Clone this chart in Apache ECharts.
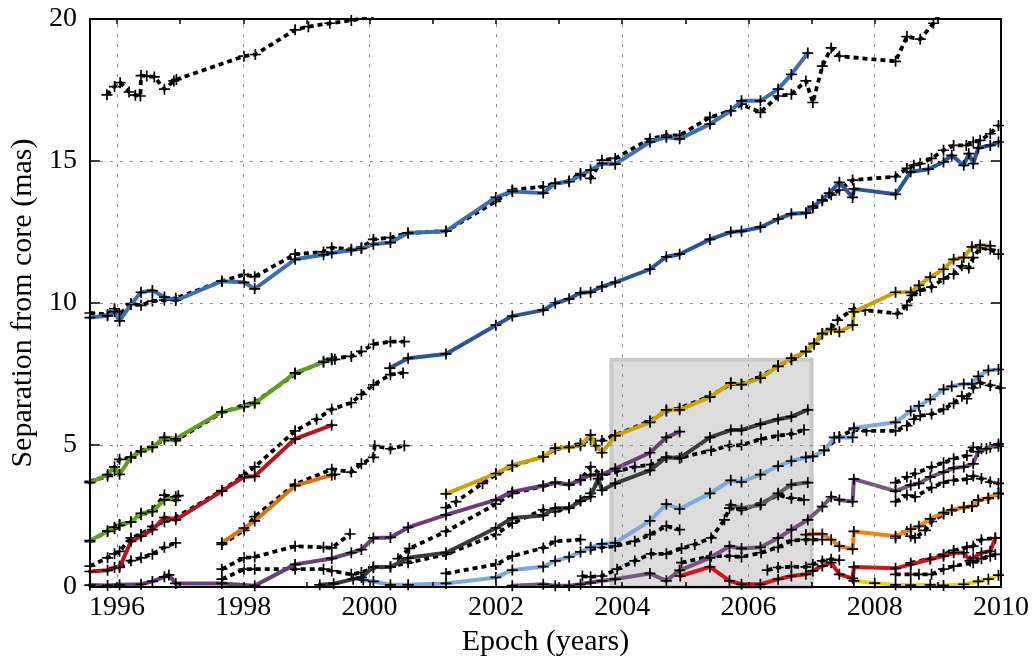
<!DOCTYPE html>
<html>
<head>
<meta charset="utf-8">
<script src="https://cdn.jsdelivr.net/npm/echarts@6/dist/echarts.min.js"></script>
<style>
  html, body { margin: 0; padding: 0; background: #ffffff; }
  #chart { width: 1032px; height: 662px; }
</style>
</head>
<body>
<div id="chart"></div>
<script>
// Axis ticks and labels
const xTickYears  = [1996, 1997, 1998, 1999, 2000, 2001, 2002, 2003, 2004, 2005, 2006, 2007, 2008, 2009, 2010];
const xLabelYears = [1996, 1998, 2000, 2002, 2004, 2006, 2008, 2010];
const xGridYears  = [1996, 1998, 2000, 2002, 2004, 2006, 2008];
const yGridValues = [5, 10, 15];
const xRange = [1995.57, 2010];
const yRange = [0, 20];

// Highlighted epoch window (years, mas)
const windowYears = [2003.83, 2007.0];
const windowSep   = [0, 8];

// Component tracks: [epoch, separation in mas]
const blueTrack = [[1995.57,9.49],[1995.85,9.55],[1995.96,9.7],[1996.04,9.37],[1996.22,9.95],[1996.38,10.38],[1996.56,10.44],[1996.75,10.21],[1996.93,10.09],[1997.66,10.77],[1998.01,10.73],[1998.18,10.50],[1998.82,11.54],[1999.27,11.70],[1999.40,11.76],[1999.71,11.86],[1999.87,11.92],[2000.06,12.07],[2000.33,12.13],[2000.61,12.47],[2001.21,12.53],[2002.0,13.72],[2002.26,13.93],[2002.75,13.87],[2002.94,14.22],[2003.16,14.27],[2003.34,14.51],[2003.50,14.68],[2003.68,14.91],[2003.89,14.89],[2004.44,15.67],[2004.70,15.84],[2004.91,15.78],[2005.39,16.3],[2005.72,16.77],[2005.89,17.12],[2006.19,17.12],[2006.47,17.53],[2006.68,18.05],[2006.94,18.80]];
const blueAlt = [[1995.57,9.65],[1995.85,9.6],[1995.96,9.80],[1996.04,9.6],[1996.22,9.98],[1996.38,9.92],[1996.56,10.07],[1996.75,10.1],[1996.93,10.17],[1997.66,10.77],[1998.01,11.0],[1998.18,10.93],[1998.82,11.72],[1999.27,11.8],[1999.40,11.95],[1999.71,11.89],[1999.87,11.95],[2000.06,12.24],[2000.33,12.30],[2000.61,12.47],[2001.21,12.53],[2002.0,13.58],[2002.26,13.98],[2002.75,14.1],[2002.94,14.2],[2003.16,14.3],[2003.34,14.56],[2003.50,14.39],[2003.68,15.03],[2003.89,15.09],[2004.44,15.78],[2004.70,15.9],[2004.91,15.9],[2005.39,16.54],[2005.72,16.77],[2005.89,17.0],[2006.19,16.71],[2006.47,17.29],[2006.68,17.35],[2006.91,17.82],[2007.02,17.06],[2007.17,18.34],[2007.31,18.98],[2007.44,18.69],[2008.33,18.51],[2008.51,19.38],[2008.72,19.29],[2008.93,19.85],[2009.1,20.4]];
const outerAlt = [[1995.84,17.33],[1995.96,17.62],[1996.05,17.76],[1996.19,17.43],[1996.29,17.32],[1996.37,17.29],[1996.38,18.01],[1996.47,17.99],[1996.59,17.96],[1996.75,17.53],[1996.90,17.82],[1996.94,17.87],[1998.01,18.69],[1998.19,18.75],[1998.82,19.62],[1999.03,19.73],[1999.37,19.85],[1999.71,19.95],[2000.06,20.1]];

const navyTrack = [[2000.32,7.71],[2000.61,8.06],[2001.21,8.21],[2002.0,9.22],[2002.26,9.54],[2002.75,9.75],[2002.94,10.0],[2003.16,10.15],[2003.34,10.36],[2003.50,10.38],[2003.68,10.58],[2003.89,10.73],[2004.44,11.19],[2004.70,11.63],[2004.91,11.72],[2005.39,12.24],[2005.72,12.50],[2005.89,12.53],[2006.19,12.67],[2006.47,12.96],[2006.68,13.14],[2006.91,13.17],[2007.02,13.40],[2007.17,13.63],[2007.28,13.87],[2007.44,14.25],[2007.65,13.72],[2007.67,14.02],[2008.33,13.83],[2008.57,14.62],[2008.85,14.71],[2009.09,14.97],[2009.22,15.2],[2009.41,14.85],[2009.49,15.26],[2009.56,14.91],[2009.64,15.46],[2009.83,15.55],[2009.96,15.67]];
const navyAlt = [[2006.91,13.17],[2007.02,13.35],[2007.17,13.6],[2007.31,13.81],[2007.44,13.98],[2007.65,14.33],[2008.33,14.45],[2008.51,14.74],[2008.62,14.85],[2008.72,14.91],[2008.90,15.09],[2009.09,15.38],[2009.25,15.55],[2009.45,15.55],[2009.56,15.67],[2009.67,15.73],[2009.83,15.96],[2009.96,16.25]];

const greenTrack = [[1995.57,3.68],[1995.85,3.96],[1995.96,4.23],[1996.04,3.97],[1996.22,4.58],[1996.38,4.77],[1996.56,4.92],[1996.75,5.27],[1996.93,5.22],[1997.66,6.17],[1998.01,6.35],[1998.18,6.47],[1998.82,7.54],[1999.27,7.92],[1999.40,8.0],[1999.45,8.02]];
const greenAlt = [[1995.57,3.72],[1995.85,3.9],[1995.96,4.1],[1996.04,4.5],[1996.22,4.55],[1996.38,4.8],[1996.56,4.95],[1996.75,5.2],[1996.93,5.16],[1997.66,6.15],[1998.01,6.4],[1998.18,6.5],[1998.82,7.5],[1999.27,7.95],[1999.40,8.05],[1999.71,8.12],[1999.87,8.3],[2000.06,8.55],[2000.33,8.64],[2000.55,8.64]];
const limeTrack = [[1995.57,1.64],[1995.85,1.96],[1995.96,2.11],[1996.04,2.17],[1996.22,2.29],[1996.38,2.60],[1996.56,2.66],[1996.75,3.07],[1996.93,3.18],[1996.97,3.22]];
const limeAlt = [[1995.57,1.6],[1995.85,1.98],[1995.96,2.05],[1996.04,2.2],[1996.22,2.3],[1996.38,2.55],[1996.56,2.7],[1996.75,3.24],[1996.93,3.05]];

const redTrack = [[1995.57,0.55],[1995.85,0.59],[1995.96,0.69],[1996.04,0.69],[1996.22,1.61],[1996.38,1.79],[1996.56,2.02],[1996.75,2.45],[1996.93,2.37],[1997.66,3.38],[1998.01,3.88],[1998.18,3.90],[1998.82,5.22],[1999.40,5.70]];
const redAlt = [[1995.57,0.74],[1995.85,1.03],[1995.96,1.17],[1996.04,1.26],[1996.22,1.73],[1996.38,1.85],[1996.56,2.14],[1996.75,2.3],[1996.93,2.45],[1997.66,3.40],[1998.01,3.94],[1998.18,4.23],[1998.82,5.50],[1999.16,5.91],[1999.40,6.26],[1999.71,6.49],[1999.87,6.78],[2000.06,7.12],[2000.33,7.48],[2000.53,7.54]];
const redShortAlt = [[1996.04,0.74],[1996.22,0.93],[1996.38,1.03],[1996.56,1.16],[1996.75,1.40],[1996.93,1.56]];

const orangeTrack = [[1997.66,1.56],[1998.01,2.08],[1998.18,2.33],[1998.82,3.57],[1999.40,3.94],[1999.45,3.97]];
const orangeAlt = [[1997.66,1.5],[1998.01,2.0],[1998.18,2.48],[1998.82,3.62],[1999.40,4.15],[1999.71,4.05],[1999.87,4.34],[2000.06,4.57],[2000.08,4.98],[2000.33,4.87],[2000.55,4.98]];

const plumTrack = [[1995.57,0.07],[1995.85,0.06],[1996.04,0.08],[1996.38,0.1],[1996.56,0.2],[1996.75,0.36],[1996.82,0.43],[1996.93,0.13],[1997.66,0.13],[1998.18,0.05],[1998.82,0.80],[1999.40,1.01],[1999.71,1.21],[1999.87,1.32],[2000.06,1.73],[2000.33,1.75],[2000.61,2.10],[2001.21,2.54],[2002.0,3.07],[2002.26,3.36],[2002.75,3.57],[2002.94,3.68],[2003.16,3.61],[2003.34,3.78],[2003.50,3.95],[2003.68,3.96],[2003.89,4.17],[2004.44,4.73],[2004.70,5.27],[2004.91,5.47]];
const plumAlt = [[2000.45,1.0],[2000.63,1.36],[2001.21,1.96],[2002.0,2.92],[2002.26,3.3],[2002.75,3.55],[2002.94,3.68],[2003.16,3.6],[2003.34,3.76],[2003.50,4.23],[2003.68,3.95]];
const plumEarlyAlt = [[1997.66,0.63],[1998.01,1.03],[1998.18,1.06],[1998.82,1.44],[1999.27,1.40],[1999.40,1.38],[1999.69,1.87]];

const goldTrack = [[2001.21,3.28],[2002.0,4.0],[2002.26,4.29],[2002.75,4.58],[2002.94,4.89],[2003.16,4.92],[2003.34,4.98],[2003.50,5.36],[2003.58,4.98],[2003.68,4.73],[2003.89,5.33],[2004.44,5.80],[2004.70,6.24],[2004.91,6.24],[2005.39,6.69],[2005.72,7.19],[2005.89,7.13],[2006.19,7.36],[2006.47,7.77],[2006.68,8.06],[2006.91,8.29],[2007.04,8.58],[2007.17,8.93],[2007.31,9.07],[2007.44,8.99],[2007.65,9.22],[2007.67,9.69],[2008.33,10.38],[2008.57,10.38],[2008.70,10.62],[2008.88,10.91],[2009.09,11.19],[2009.25,11.54],[2009.41,11.60],[2009.54,11.98],[2009.67,12.04],[2009.83,12.01]];
const goldAlt = [[2001.21,2.80],[2001.37,3.01],[2001.79,3.65],[2002.0,3.96],[2002.26,4.25],[2002.75,4.6],[2002.94,4.85],[2003.16,4.95],[2003.34,5.05],[2003.50,5.2],[2003.68,5.16],[2003.89,5.35],[2004.44,5.85],[2004.70,6.2],[2004.91,6.3],[2005.39,6.72],[2005.72,7.15],[2005.89,7.15],[2006.19,7.4],[2006.47,7.8],[2006.68,8.0],[2006.91,8.3],[2007.04,8.55],[2007.17,8.9],[2007.31,9.1],[2007.41,9.40],[2007.67,9.80],[2007.85,9.75],[2008.36,9.63],[2008.51,9.92],[2008.59,10.27],[2008.72,10.44],[2008.90,10.56],[2009.09,10.85],[2009.25,11.02],[2009.38,11.31],[2009.49,11.23],[2009.56,11.60],[2009.67,11.95],[2009.83,11.89],[2009.96,11.72]];

const slateTrack = [[1999.21,0.08],[1999.43,0.12],[1999.74,0.28],[1999.87,0.34],[2000.06,0.71],[2000.33,0.71],[2000.61,1.03],[2001.21,1.21],[2002.0,2.08],[2002.26,2.43],[2002.75,2.52],[2002.94,2.78],[2003.16,2.78],[2003.34,3.03],[2003.50,3.18],[2003.62,3.82],[2003.68,3.41],[2003.89,3.65],[2004.44,4.11],[2004.70,4.57],[2004.91,4.54],[2005.39,5.27],[2005.72,5.53],[2005.89,5.53],[2006.19,5.74],[2006.47,5.91],[2006.68,6.0],[2006.94,6.24]];
const slateAlt = [[1997.66,0.28],[1998.01,0.63],[1998.18,0.63],[1998.82,0.63],[1999.27,0.63],[1999.40,0.57],[1999.71,0.45],[1999.87,0.51],[2000.06,0.68],[2000.33,0.72],[2000.61,0.86],[2001.21,1.15],[2002.0,1.85],[2002.26,2.25],[2002.75,2.72],[2002.94,2.66],[2003.16,2.8],[2003.34,3.05],[2003.50,3.3],[2003.68,3.95],[2003.92,4.08],[2004.20,4.23],[2004.46,4.31],[2004.70,4.57],[2004.94,4.57],[2005.41,4.81],[2005.70,4.98],[2005.89,5.0],[2006.20,5.21],[2006.47,5.33],[2006.68,5.39],[2006.88,5.54]];

const skyTrack = [[1999.90,0.25],[2000.06,0.2],[2000.33,0.08],[2000.61,0.08],[2001.21,0.13],[2002.0,0.34],[2002.26,0.60],[2002.75,0.72],[2002.94,0.92],[2003.16,1.06],[2003.34,1.24],[2003.50,1.40],[2003.68,1.52],[2003.89,1.56],[2004.44,2.33],[2004.70,2.92],[2004.91,2.75],[2005.39,3.30],[2005.72,3.76],[2005.89,3.70],[2006.19,3.96],[2006.47,4.26],[2006.68,4.44],[2006.91,4.57],[2007.02,4.60],[2007.20,4.81],[2007.36,5.27],[2007.44,5.27],[2007.65,5.27],[2007.67,5.60],[2008.33,5.80],[2008.57,6.20],[2008.70,6.38],[2008.88,6.61],[2009.09,6.96],[2009.22,7.07],[2009.41,7.15],[2009.54,7.15],[2009.64,7.42],[2009.80,7.63],[2009.96,7.66]];
const skyAltA = [[2001.21,0.48],[2002.0,0.80],[2002.26,1.09],[2002.75,1.38],[2002.94,1.61],[2003.34,1.67]];
const skyAltB = [[2003.50,1.33],[2003.68,1.40],[2003.89,1.44],[2004.20,1.61],[2004.44,1.85],[2004.70,2.15],[2004.91,2.02]];
const skyAltC = [[2007.20,4.81],[2007.44,5.3],[2007.67,5.54],[2007.87,5.5],[2008.33,5.50],[2008.51,5.68],[2008.62,5.91],[2008.72,6.03],[2008.90,6.09],[2009.09,6.26],[2009.25,6.47],[2009.38,6.72],[2009.46,6.63],[2009.56,7.01],[2009.67,7.19],[2009.83,7.10],[2009.99,7.01]];

const greyTrack = [[2005.72,2.89],[2005.89,2.78],[2006.19,2.89],[2006.47,3.30],[2006.68,3.61],[2006.94,3.68]];
const greyAlt = [[2003.37,0.39],[2003.50,0.36],[2003.68,0.39],[2003.92,0.63],[2004.20,0.92],[2004.46,1.17],[2004.70,1.17],[2004.94,1.36],[2005.15,1.50],[2005.41,1.73],[2005.62,2.37],[2005.70,2.78],[2005.89,2.72],[2006.20,2.95],[2006.47,3.24],[2006.68,3.13],[2006.88,3.07]];

const mauveTrack = [[2002.26,0.05],[2002.75,0.1],[2002.94,0.05],[2003.16,0.05],[2003.34,0.1],[2003.50,0.16],[2003.68,0.22],[2003.89,0.28],[2004.44,0.48],[2004.70,0.22],[2004.91,0.59],[2005.39,1.03],[2005.70,1.44],[2005.89,1.36],[2006.19,1.40],[2006.47,1.73],[2006.68,2.02],[2006.94,2.37],[2007.17,2.83],[2007.31,3.18],[2007.44,3.07],[2007.65,3.01],[2007.67,3.80],[2008.33,3.38],[2008.57,3.59],[2008.70,3.65],[2008.88,3.88],[2009.09,4.05],[2009.25,4.19],[2009.41,4.23],[2009.56,4.34],[2009.64,4.77],[2009.77,4.87],[2009.96,5.04]];
const mauveAltA = [[2008.33,3.68],[2008.51,3.88],[2008.64,4.0],[2008.90,4.23],[2009.09,4.38],[2009.25,4.52],[2009.46,4.63],[2009.56,4.92],[2009.69,4.87],[2009.83,4.92],[2009.96,4.96]];
const mauveAltB = [[2008.33,3.01],[2008.51,3.24],[2008.64,3.18],[2008.90,3.5],[2009.09,3.68],[2009.25,3.76],[2009.46,3.80],[2009.56,3.91],[2009.69,3.82],[2009.83,3.70],[2009.96,3.65]];

const amberTrack = [[2006.91,1.85],[2007.02,1.87],[2007.17,1.87],[2007.31,1.67],[2007.44,1.44],[2007.65,1.34],[2007.67,1.96],[2008.33,1.79],[2008.57,2.04],[2008.70,2.14],[2008.88,2.40],[2009.09,2.62],[2009.22,2.72],[2009.41,2.81],[2009.54,2.85],[2009.64,3.07],[2009.80,3.14],[2009.96,3.30]];
const amberAltA = [[2004.94,0.86],[2005.41,1.09],[2005.70,1.09],[2005.89,1.06],[2006.20,1.21],[2006.47,1.40],[2006.68,1.64],[2006.91,1.67],[2007.02,1.67],[2007.17,1.67]];
const amberAltB = [[2008.33,1.73],[2008.51,1.96],[2008.57,1.79],[2008.64,1.73],[2008.80,2.0],[2008.90,2.31],[2009.09,2.57],[2009.22,2.7],[2009.41,2.8],[2009.54,2.84],[2009.64,3.05],[2009.80,3.12],[2009.96,3.28]];

const crimsonTrack = [[2004.92,0.39],[2005.39,0.71],[2005.70,0.22],[2005.89,0.1],[2006.19,0.1],[2006.47,0.28],[2006.68,0.39],[2006.91,0.45],[2007.02,0.57],[2007.17,0.74],[2007.31,0.86],[2007.44,0.45],[2007.65,0.31],[2007.67,0.71],[2008.33,0.66],[2008.57,0.80],[2008.88,0.98],[2009.09,1.09],[2009.25,1.21],[2009.41,1.21],[2009.51,0.92],[2009.56,1.03],[2009.69,1.21],[2009.83,1.26],[2009.91,1.73]];
const crimsonAltA = [[2006.30,0.6],[2006.47,0.69],[2006.68,0.72],[2006.91,0.71],[2007.02,0.80],[2007.17,0.92],[2007.31,0.98],[2007.44,0.95]];
const crimsonAltB = [[2008.57,0.85],[2008.88,1.0],[2009.09,1.15],[2009.25,1.29],[2009.46,1.40],[2009.56,1.44],[2009.69,1.67],[2009.91,1.73]];
const crimsonAltC = [[2008.33,0.45],[2008.57,0.45],[2008.70,0.45],[2008.90,0.45],[2009.09,0.63],[2009.25,0.74],[2009.56,0.86],[2009.69,1.0],[2009.83,1.09],[2009.91,1.15]];

const yellowTrack = [[2007.67,0.22],[2008.0,0.14],[2008.33,0.08],[2008.57,0.07],[2008.88,0.08],[2009.09,0.06],[2009.41,0.1],[2009.64,0.2],[2009.80,0.28],[2009.96,0.42]];

const FONT = "'Liberation Serif', 'DejaVu Serif', serif";
const PLUS = 'path://M4.65,0h1.7v4.65h4.65v1.7h-4.65v4.65h-1.7v-4.65h-4.65v-1.7h4.65z';

function solidLine(data, color) {
  return {
    type: 'line', data: data, z: 4, silent: true,
    symbol: PLUS, symbolSize: 11, showSymbol: true,
    itemStyle: { color: '#000' },
    lineStyle: { color: color, width: 4, join: 'round', cap: 'round' },
    emphasis: { disabled: true }
  };
}
function dashedLine(data) {
  return {
    type: 'line', data: data, z: 3, silent: true,
    symbol: PLUS, symbolSize: 11, showSymbol: true,
    itemStyle: { color: '#000' },
    lineStyle: { color: '#000', width: 3.8, type: [5, 4], join: 'round' },
    emphasis: { disabled: true }
  };
}

const altTracks = [outerAlt, blueAlt, navyAlt, greenAlt, limeAlt, redAlt, redShortAlt, orangeAlt,
  plumAlt, plumEarlyAlt, goldAlt, slateAlt, skyAltA, skyAltB, skyAltC, greyAlt,
  mauveAltA, mauveAltB, amberAltA, amberAltB, crimsonAltA, crimsonAltB, crimsonAltC];

const mainTracks = [
  [blueTrack, '#3b70b0'], [navyTrack, '#2a5596'], [greenTrack, '#5f9f1c'], [limeTrack, '#62a41e'],
  [redTrack, '#b5151c'], [orangeTrack, '#e0700e'], [plumTrack, '#6a3f78'], [goldTrack, '#c9a300'],
  [slateTrack, '#373c3d'], [skyTrack, '#7aa9dc'], [greyTrack, '#5e6161'], [mauveTrack, '#77557f'],
  [amberTrack, '#f5820c'], [crimsonTrack, '#d81218'], [yellowTrack, '#ecd600']
];

const series = [];
// shaded epoch window
series.push({
  type: 'line', data: [], z: 1, silent: true,
  markArea: {
    silent: true,
    itemStyle: { color: '#dcdcdc', borderColor: '#c9c9c9', borderWidth: 4 },
    data: [[{ xAxis: windowYears[0], yAxis: windowSep[0] }, { xAxis: windowYears[1], yAxis: windowSep[1] }]]
  }
});
// dashed reference grid
series.push({
  type: 'line', data: [], z: 2, silent: true,
  markLine: {
    silent: true, symbol: ['none', 'none'], label: { show: false },
    lineStyle: { color: '#8c8c8c', type: [3, 7], width: 1 },
    emphasis: { disabled: true },
    data: xGridYears.map(v => ({ xAxis: v })).concat(yGridValues.map(v => ({ yAxis: v })))
  }
});
altTracks.forEach(d => series.push(dashedLine(d)));
mainTracks.forEach(([d, c]) => series.push(solidLine(d, c)));

const axisLineStyle = { show: true, onZero: false, lineStyle: { color: '#000', width: 2 } };
const tickStyle = { color: '#000', width: 1.5 };
const yearLabel = v => String(Math.round(v));

const chart = echarts.init(document.getElementById('chart'), null, { renderer: 'canvas' });
chart.setOption({
  animation: false,
  backgroundColor: '#ffffff',
  grid: { left: 86, right: 31, top: 19, bottom: 69, containLabel: false },
  xAxis: [
    {
      type: 'value', position: 'bottom', min: xRange[0], max: xRange[1], z: 10,
      axisLine: axisLineStyle,
      axisTick: { show: true, inside: true, length: 5, lineStyle: tickStyle, customValues: xTickYears },
      axisLabel: { show: true, customValues: xLabelYears, formatter: yearLabel, color: '#000', fontFamily: FONT, fontSize: 28, margin: 7 },
      splitLine: { show: false },
      name: 'Epoch (years)', nameLocation: 'middle', nameGap: 39,
      nameTextStyle: { color: '#000', fontFamily: FONT, fontSize: 30 }
    },
    {
      type: 'value', position: 'top', min: xRange[0], max: xRange[1], z: 10,
      axisLine: axisLineStyle,
      axisTick: { show: true, inside: true, length: 5, lineStyle: tickStyle, customValues: xTickYears },
      axisLabel: { show: false },
      splitLine: { show: false }
    }
  ],
  yAxis: [
    {
      type: 'value', position: 'left', min: yRange[0], max: yRange[1], interval: 5, z: 10,
      axisLine: axisLineStyle,
      axisTick: { show: true, inside: true, length: 10, lineStyle: tickStyle },
      axisLabel: { color: '#000', fontFamily: FONT, fontSize: 28, margin: 13 },
      splitLine: { show: false },
      name: 'Separation from core (mas)', nameLocation: 'middle', nameRotate: 90, nameGap: 51,
      nameTextStyle: { color: '#000', fontFamily: FONT, fontSize: 30 }
    },
    {
      type: 'value', position: 'right', min: yRange[0], max: yRange[1], interval: 5, z: 10,
      axisLine: axisLineStyle,
      axisTick: { show: true, inside: true, length: 10, lineStyle: tickStyle },
      axisLabel: { show: false },
      splitLine: { show: false }
    }
  ],
  series: series
});
</script>
</body>
</html>
